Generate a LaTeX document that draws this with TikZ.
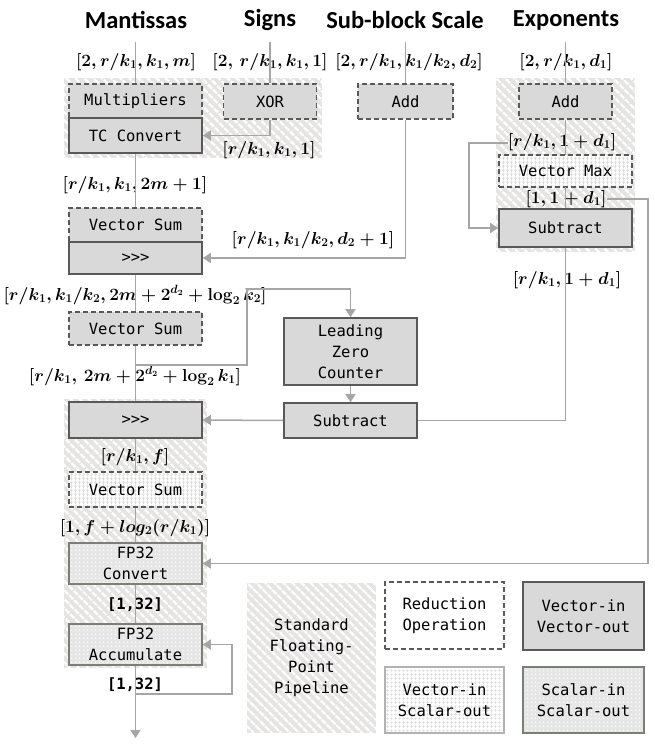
\documentclass[tikz,border=0pt]{standalone}
\usepackage[no-math]{fontspec}
\setmonofont{DejaVu Sans Mono}
\newfontfamily\titlefont{Carlito}
\usetikzlibrary{patterns.meta,arrows.meta,calc}
\definecolor{boxgray}{HTML}{D9D9D9}
\definecolor{borddark}{HTML}{595959}
\definecolor{bordscal}{HTML}{7A8076}
\definecolor{linegray}{HTML}{A6A6A6}
\definecolor{hatchbg}{HTML}{E6E3E3}
\definecolor{gridline}{HTML}{DCDCDC}
\definecolor{dotbg}{HTML}{E6E6E6}
\begin{document}
\begin{tikzpicture}[x=1pt,y=-1pt,
  title/.style={font=\titlefont\bfseries\fontsize{24.5}{27}\selectfont, inner sep=0},
  lab/.style={font=\fontsize{17}{20}\selectfont\boldmath, inner sep=0},
  monolab/.style={font=\ttfamily\bfseries\fontsize{15.5}{18}\selectfont, inner sep=0},
  base/.style={font=\ttfamily\fontsize{15.5}{21}\selectfont, align=center, inner sep=0, line width=1.6pt},
  vv/.style={base, draw=borddark, fill=boxgray},
  red/.style={base, draw=borddark, fill=boxgray, dashed, dash pattern=on 5pt off 3pt},
  redw/.style={base, draw=borddark, fill=white, dashed, dash pattern=on 5pt off 3pt},
  vs/.style={base, draw=borddark, dashed, dash pattern=on 5pt off 3pt, preaction={fill=white}, pattern={Hatch[angle=0,distance=4pt,line width=0.9pt]}, pattern color=gridline},
  vsl/.style={base, draw=gray!60, preaction={fill=white}, pattern={Hatch[angle=0,distance=4pt,line width=0.9pt]}, pattern color=gridline},
  ss/.style={base, draw=bordscal, preaction={fill=dotbg}, pattern={Dots[distance=4pt,radius=0.7pt]}, pattern color=white},
  conn/.style={draw=linegray, line width=1.5pt},
  arr/.style={conn, -{Triangle[width=10pt,length=8pt]}}]
\useasboundingbox (0,0) rectangle (655,754);
% hatched pipeline regions
\foreach \a/\b/\c/\d in {64/78/322/158, 496/78/635/252, 64/399/207/668, 247/583/376/733}{
  \fill[hatchbg] (\a,\b) rectangle (\c,\d);
  \fill[pattern={Lines[angle=-45,distance=6.5pt,line width=2.6pt]}, pattern color=white] (\a,\b) rectangle (\c,\d);
}
% titles
\node[title] (tM) at (136,20) {Mantissas};
\node[title] (tS) at (270,20) {Signs};
\node[title] (tB) at (405,20) {Sub-block Scale};
\node[title] (tE) at (566,20) {Exponents};
\coordinate (cM) at (135.5,42);
\coordinate (cS) at (270,42);
\coordinate (cB) at (405.5,42);
\coordinate (cE) at (565.5,42);
% boxes
\node[red, minimum width=133, minimum height=34] (mult) at (135.5,101) {Multipliers};
\node[vv, minimum width=133, minimum height=35] (tc) at (135.5,135.5) {TC Convert};
\node[red, minimum width=93, minimum height=35] (xor) at (270,101.5) {XOR};
\node[red, minimum width=95, minimum height=35] (add1) at (405.5,101.5) {Add};
\node[red, minimum width=93, minimum height=35] (add2) at (565.5,101.5) {Add};
\node[vs, minimum width=133, minimum height=32] (vmax) at (565.5,171) {Vector Max};
\node[vv, minimum width=133, minimum height=38] (sub1) at (565.5,228) {Subtract};
\node[red, minimum width=133, minimum height=34] (vs1) at (135.5,225) {Vector Sum};
\node[vv, minimum width=133, minimum height=32] (sh1) at (135.5,258) {>{}>{}>};
\node[red, minimum width=133, minimum height=33] (vs2) at (135.5,328.5) {Vector Sum};
\node[vv, minimum width=133, minimum height=67] (lzc) at (350.5,351.5) {Leading\\Zero\\Counter};
\node[vv, minimum width=133, minimum height=35] (sub2) at (350.5,420.5) {Subtract};
\node[vv, minimum width=133, minimum height=36] (sh2) at (135.5,420) {>{}>{}>};
\node[vs, minimum width=133, minimum height=35] (vs3) at (135.5,489.5) {Vector Sum};
\node[ss, minimum width=133, minimum height=41] (fpc) at (135.5,563.5) {FP32\\Convert};
\node[ss, minimum width=133, minimum height=41] (fpa) at (135.5,644.5) {FP32\\Accumulate};
% legend
\node[base, minimum width=129, minimum height=150] (lgH) at (311.5,658) {Standard\\Floating-\\Point\\Pipeline};
\node[redw, minimum width=119, minimum height=67] (lgR) at (444.5,615.5) {Reduction\\Operation};
\node[vv, minimum width=121, minimum height=68] (lgV) at (583.5,616) {Vector-in\\Vector-out};
\node[vsl, minimum width=119, minimum height=66] (lgS) at (444.5,700) {Vector-in\\Scalar-out};
\node[ss, minimum width=121, minimum height=66] (lgC) at (583.5,700) {Scalar-in\\Scalar-out};
% labels
\node[lab] (l1) at (136,62) {$[2,r/k_1,k_1,m]$};
\node[lab] (l2) at (270,62) {$[2,\,r/k_1,k_1,1]$};
\node[lab] (l3) at (409,62) {$[2,r/k_1,k_1/k_2,d_2]$};
\node[lab] (l4) at (566,62) {$[2,r/k_1,d_1]$};
\node[lab] (l5) at (269,150) {$[r/k_1,k_1,1]$};
\node[lab] (l6) at (562,142) {$[r/k_1,1+d_1]$};
\node[lab] (l7) at (566,199) {$[1,1+d_1]$};
\node[lab] (l8) at (135,185) {$[r/k_1,k_1,2m+1]$};
\node[lab] (l9) at (313,240) {$[r/k_1,k_1/k_2,d_2+1]$};
\node[lab] (l10) at (567,280) {$[r/k_1,1+d_1]$};
\node[lab] (l11) at (135,295) {$[r/k_1,k_1/k_2,2m+2^{d_2}+\log_2 k_2]$};
\node[lab] (l12) at (135,376) {$[r/k_1,\,2m+2^{d_2}+\log_2 k_1]$};
\node[lab] (l13) at (135,457) {$[r/k_1,f]$};
\node[lab] (l14) at (135,528) {$[1,f+log_2(r/k_1)]$};
\node[monolab] (l15) at (135,605) {[1,32]};
\node[monolab] (l16) at (135,685) {[1,32]};
% helper coordinates
\coordinate (b1) at (l6.west |- 0,143);
\coordinate (b2) at (l7.east |- 0,199);
\coordinate (b3) at (135.5,365);
\coordinate (b4) at (135.5,694);
\coordinate (out) at (135.5,738);
% connectors
\begin{scope}[on background layer/.style={}]
\end{scope}
\draw[conn] (cM) -- (mult.north);
\draw[conn] (cS) -- (xor.north);
\draw[conn] (cB) -- (add1.north);
\draw[conn] (cE) -- (add2.north);
\draw[arr] (xor.south) |- (tc.east);
\draw[conn] (tc.south) -- (vs1.north);
\draw[arr] (add1.south) |- (sh1.east);
\draw[conn] (add2.south) -- (vmax.north);
\draw[conn] (vmax.south) -- (sub1.north);
\draw[arr] (b1) -- (469,143) |- (sub1.west);
\draw[arr] (b2) -- (648,199) |- (fpc.east);
\draw[conn] (sub1.south) |- (sub2.east);
\draw[conn] (sh1.south) -- (vs2.north);
\draw[conn] (vs2.south) -- (sh2.north);
\draw[arr] (b3) -- ++(111.5,0) -- ++(0,-76) -| (lzc.north);
\draw[arr] (lzc.south) -- (sub2.north);
\draw[arr] (sub2.west) -- (sh2.east);
\draw[conn] (sh2.south) -- (vs3.north);
\draw[conn] (vs3.south) -- (fpc.north);
\draw[conn] (fpc.south) -- (fpa.north);
\draw[arr] (fpa.south) -- (out);
\draw[arr] (b4) -- ++(96.5,0) |- (fpa.east);
\end{tikzpicture}
\end{document}
